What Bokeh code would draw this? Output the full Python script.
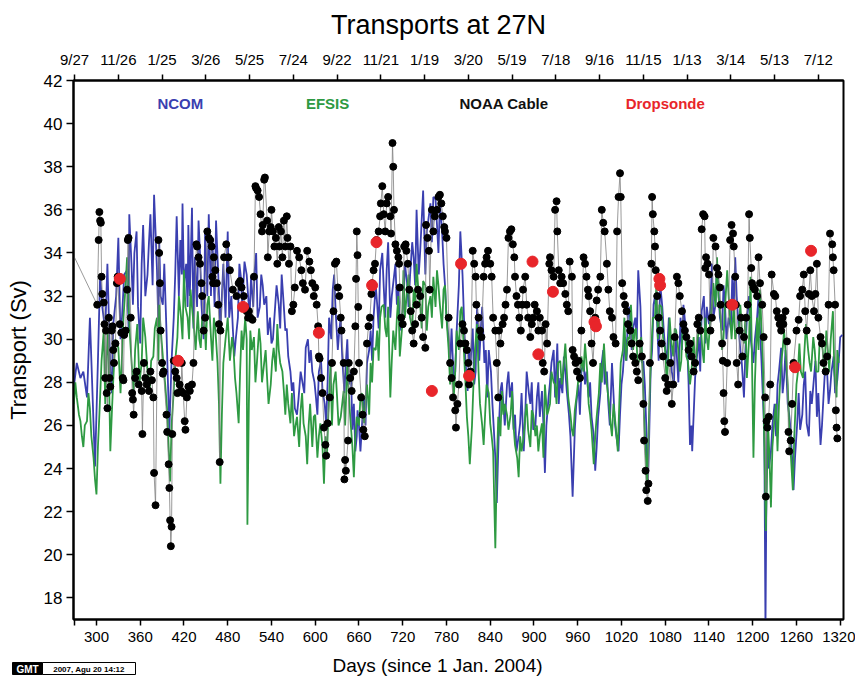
from bokeh.plotting import figure
from bokeh.models import LinearAxis, FixedTicker, Label, Range1d
from bokeh.layouts import column
from bokeh.core.properties import value
from bokeh.embed import file_html
from bokeh.resources import INLINE

# ---------------- data ----------------
ncom_day = [269, 273, 278, 282, 287, 291, 298, 305, 312, 319, 323, 330, 335, 342, 345, 350, 355, 360, 364, 370,
            374, 379, 383, 386, 391, 396, 400, 406, 410, 415, 418, 423, 426, 431, 435, 440, 444, 449, 454, 459,
            464, 470, 474, 480, 485, 489, 494, 498, 503, 508, 512, 517, 521, 526, 530, 535, 540, 544, 550, 554,
            559, 563, 568, 572, 577, 582, 587, 592, 596, 601, 605, 610, 615, 619, 624, 628, 633, 637, 642, 646,
            651, 655, 658, 662, 667, 671, 676, 680, 685, 689, 694, 698, 703, 707, 712, 716, 721, 726, 730, 735,
            739, 744, 748, 753, 758, 762, 767, 771, 776, 780, 785, 790, 794, 799, 804, 809, 813, 818, 822, 827,
            832, 836, 841, 845, 849, 854, 858, 863, 867, 872, 876, 881, 886, 890, 895, 899, 904, 908, 911, 915,
            920, 924, 929, 932, 936, 941, 945, 950, 953, 956, 961, 965, 970, 975, 979, 984, 988, 993, 997, 1002,
            1007, 1011, 1016, 1020, 1025, 1029, 1034, 1039, 1043, 1048, 1052, 1056, 1060, 1064, 1069, 1073, 1078,
            1082, 1087, 1092, 1096, 1101, 1105, 1110, 1114, 1117, 1121, 1126, 1130, 1135, 1140, 1144, 1149, 1153,
            1158, 1162, 1167, 1172, 1176, 1181, 1185, 1188, 1192, 1197, 1201, 1206, 1210, 1215, 1216, 1217.5, 1219,
            1220, 1225, 1230, 1234, 1239, 1243, 1248, 1252, 1256, 1261, 1265, 1270, 1274, 1279, 1284, 1288, 1293,
            1297, 1302, 1306, 1311, 1316, 1320, 1323]
ncom_val = [27.8, 28.9, 28.2, 28.5, 27.3, 31.0, 24.1, 33.0, 30.4, 28.5, 30.7, 34.7, 31.0, 33.2, 35.8, 31.6, 35.0, 29.8, 35.3, 33.0,
            35.8, 36.7, 33.2, 34.6, 31.6, 30.4, 25.8, 31.0, 35.7, 34.6, 36.3, 33.5, 35.3, 36.1, 33.8, 35.5, 31.6, 35.0, 35.8, 34.6,
            35.5, 30.4, 33.5, 35.0, 32.0, 29.2, 31.0, 32.9, 33.6, 32.0, 32.9, 33.2, 31.0, 33.0, 31.6, 30.2, 29.8, 31.0, 31.6, 33.0,
            30.4, 29.2, 27.6, 26.8, 27.2, 28.1, 29.6, 28.9, 28.5, 27.3, 28.5, 27.6, 26.1, 31.0, 32.3, 31.3, 30.4, 29.2, 28.9, 27.9,
            25.8, 24.8, 26.7, 24.8, 27.3, 28.9, 30.4, 31.0, 31.6, 33.2, 32.4, 33.2, 31.0, 32.6, 31.6, 30.4, 31.6, 32.6, 32.9, 33.8,
            36.0, 34.1, 36.9, 35.0, 36.3, 36.6, 35.3, 36.3, 33.5, 31.0, 28.9, 27.9, 30.4, 35.0, 31.0, 27.6, 28.9, 27.9, 31.6, 30.4,
            28.9, 27.3, 28.5, 25.8, 22.4, 27.6, 27.0, 27.9, 27.3, 25.8, 24.8, 26.1, 24.8, 28.5, 27.0, 25.8, 27.3, 26.4, 27.6, 23.8,
            27.3, 28.9, 27.3, 29.8, 28.2, 29.2, 27.6, 25.5, 22.7, 25.8, 27.9, 28.5, 27.9, 27.3, 26.4, 23.9, 26.4, 28.9, 27.9, 27.0,
            28.9, 26.1, 24.8, 27.9, 30.1, 31.3, 29.5, 31.0, 33.2, 28.9, 27.9, 23.0, 28.5, 31.6, 30.7, 32.6, 30.4,
            28.9, 30.1, 27.9, 29.2, 31.0, 31.6, 29.8, 25.1, 24.8, 28.2, 30.1, 31.3, 29.8, 30.7, 33.5, 31.6, 32.3,
            30.4, 31.6, 31.0, 32.9, 33.8, 30.4, 28.9, 27.3, 31.0, 30.1, 28.9, 31.0, 30.4, 26.4, 25.0, 16.5, 24.0,
            25.8, 24.8, 27.0, 27.9, 29.6, 28.2, 27.0, 25.8, 23.0, 26.1, 25.8, 27.9, 26.1, 27.6, 28.2, 26.4, 25.1,
            27.3, 28.5, 27.6, 29.2, 28.1, 30.1, 30.2]
# intermediate daily readings of the NCOM curve
ncom_day2 = [302, 308, 315, 321, 327, 333, 338, 344, 348, 352, 357, 362, 367, 372, 377, 381, 385, 388, 393, 398,
             403, 408, 413, 417, 420, 425, 428, 433, 438, 442, 447, 452, 457, 462, 467, 472, 477, 482,
             487, 491, 496, 500, 506, 510, 515, 519, 524, 528, 533, 538, 542, 547, 552, 557, 561, 566, 570, 575,
             580, 585, 590, 594, 599, 603, 608, 613, 617, 622, 626, 631, 635, 640, 644, 649, 653, 657, 660, 665,
             669, 674, 678, 683, 687, 692, 696,
             700, 705, 710, 714, 719, 723, 728, 733, 737, 742, 746, 751, 755, 760, 765, 769, 774, 778, 783, 787,
             792, 797, 802, 806, 811, 816, 820, 825, 829, 834, 838, 843, 847, 852, 856, 860, 865, 870, 874, 879,
             883, 888, 893, 897, 902, 906,
             913, 917, 922, 927, 934, 939, 943, 948, 958, 963, 968, 972, 977, 982, 986, 991, 995, 1000, 1004, 1009,
             1013, 1018, 1022, 1027, 1031, 1036, 1041, 1046, 1050, 1054, 1058, 1062, 1066, 1071, 1076, 1080, 1085,
             1089, 1094, 1098, 1103, 1108, 1112, 1116,
             1123, 1128, 1133, 1137, 1142, 1146, 1151, 1155, 1160, 1164, 1170, 1174, 1178, 1183, 1190, 1195, 1199,
             1203, 1208, 1212, 1222, 1227, 1232, 1236, 1241, 1245, 1250, 1254, 1258, 1263, 1268, 1272, 1277, 1281,
             1286, 1290, 1295, 1299, 1304, 1308, 1313, 1318]
ncom_val2 = [29.0, 31.5, 33.5, 27.5, 32.0, 30.0, 33.0, 30.5, 33.5, 34.0, 31.5, 33.5, 32.0, 34.5, 32.5, 35.0, 30.5, 32.0, 33.5, 28.0,
             29.0, 33.0, 32.0, 33.0, 32.5, 31.5, 32.0, 30.5, 31.5, 34.0, 30.0, 32.0, 32.0, 31.5, 33.0, 32.0, 31.0, 31.0,
             30.5, 30.0, 33.5, 31.5, 33.0, 31.0, 31.5, 34.0, 31.5, 32.5, 32.0, 31.0, 30.0, 32.5, 30.5, 31.5, 30.5, 28.5, 28.0, 26.5,
             28.5, 27.5, 30.0, 29.5, 28.0, 26.5, 29.0, 27.0, 28.0, 30.0, 33.0, 29.5, 31.0, 27.5, 30.0, 28.5, 27.0, 25.5, 26.0, 26.5,
             26.0, 29.5, 29.0, 32.5, 30.5, 34.0, 31.0,
             34.5, 32.0, 33.5, 32.5, 31.0, 33.5, 31.5, 34.5, 32.5, 33.0, 35.5, 33.0, 35.5, 34.5, 36.5, 34.0, 35.0, 32.5, 30.0, 30.5,
             28.5, 32.5, 33.0, 29.0, 29.5, 30.5, 28.5, 29.0, 31.5, 29.5, 29.5, 27.0, 24.5, 26.0, 28.0, 26.0, 28.5, 28.0, 26.5, 25.5,
             27.5, 26.5, 27.5, 28.0, 26.0, 28.0,
             26.0, 26.0, 28.0, 29.5, 27.0, 27.5, 28.5, 26.5, 27.0, 26.5, 29.0, 28.5, 28.0, 25.5, 25.0, 27.5, 29.5, 28.5, 26.0, 27.5,
             25.5, 26.5, 28.5, 29.0, 31.5, 30.5, 30.0, 31.5, 29.0, 26.0, 25.5, 29.5, 32.0, 29.0, 31.5, 29.5, 31.0,
             28.5, 30.5, 28.0, 29.5, 30.5, 28.0, 26.0,
             29.0, 28.5, 32.0, 31.5, 31.5, 31.0, 33.5, 31.0, 32.5, 30.0, 30.5, 31.5, 32.0, 29.5, 29.5, 32.0, 29.5,
             30.0, 32.0, 29.0, 24.0, 26.0, 25.5, 28.5, 27.5, 29.5, 26.5, 24.5, 24.5, 27.5, 26.5, 28.5, 25.5, 27.0,
             29.0, 27.5, 26.0, 28.5, 27.0, 28.5, 27.5, 29.0]

efsis_day = [269, 273, 278, 282, 287, 291, 296, 300, 304, 310, 314, 319, 323, 330, 337, 342, 346, 351, 356, 362,
             367, 373, 378, 383, 386, 391, 397, 401, 406, 411, 416, 420, 425, 429, 434, 439, 443, 448, 452, 457,
             461, 466, 470, 474, 480, 486, 490, 495, 499, 504, 507, 511, 516, 520, 525, 530, 534, 539, 543, 548,
             552, 557, 561, 566, 571, 575, 580, 584, 589, 593, 598, 603, 607, 612, 616, 621, 625, 630, 635, 639,
             644, 648, 653, 657, 662, 667, 671, 676, 680, 685, 689, 694, 698, 703, 707, 712, 716, 721, 726, 730,
             735, 739, 744, 748, 753, 758, 762, 767, 771, 776, 780, 785, 790, 794, 799, 803, 808, 812, 817, 822,
             826, 831, 835, 840, 844, 847, 851, 856, 860, 865, 870, 874, 879, 883, 888, 892, 897, 902, 906, 911,
             915, 920, 924, 929, 933, 938, 943, 947, 952, 956, 961, 965, 970, 975, 979, 982, 986, 991, 996, 1000,
             1005, 1009, 1015, 1019, 1024, 1029, 1033, 1038, 1042, 1047, 1051, 1055, 1059, 1063, 1068, 1072, 1077,
             1082, 1086, 1091, 1095, 1100, 1104, 1109, 1114, 1119, 1124, 1128, 1133, 1137, 1142, 1146, 1151, 1156,
             1160, 1165, 1169, 1174, 1178, 1183, 1188, 1192, 1197, 1201, 1206, 1210, 1214, 1218, 1221, 1225, 1230,
             1234, 1239, 1243, 1248, 1252, 1255, 1260, 1264, 1269, 1273, 1278, 1283, 1287, 1292, 1296, 1301, 1305,
             1310, 1315, 1318]
efsis_val = [27.0, 27.3, 26.2, 25.0, 26.2, 26.8, 24.5, 22.8, 26.5, 30.4, 29.2, 24.8, 28.1, 29.6, 31.0, 33.8, 30.1, 27.5, 30.7, 28.9,
             30.1, 27.6, 29.2, 31.0, 31.6, 29.2, 26.7, 23.4, 27.6, 30.1, 31.0, 33.2, 31.0, 32.3, 30.4, 31.3, 29.6, 31.0, 31.6, 30.1,
             31.0, 28.9, 23.3, 28.9, 31.0, 30.1, 28.2, 26.1, 30.4, 31.0, 21.4, 30.4, 30.1, 28.9, 29.8, 28.9, 28.2, 27.9, 29.6, 30.7,
             28.9, 27.6, 27.9, 26.1, 25.5, 26.4, 26.7, 26.1, 24.2, 27.0, 26.4, 24.5, 26.1, 23.3, 24.5, 28.9, 27.9, 27.3, 26.4, 27.6,
             28.9, 26.4, 23.6, 26.4, 27.3, 26.1, 27.9, 28.9, 29.6, 30.4, 31.0, 31.6, 30.1, 27.3, 30.4, 31.0, 29.2, 33.2, 32.3, 31.0,
             32.3, 33.5, 31.6, 32.7, 30.4, 32.0, 32.9, 33.2, 31.6, 32.3, 31.0, 27.9, 27.3, 30.4, 31.3, 30.1, 26.4, 24.2, 27.9, 30.7,
             27.0, 25.1, 27.9, 26.1, 24.8, 20.3, 26.4, 27.6, 27.0, 25.8, 27.6, 25.1, 23.6, 24.8, 26.4, 25.8, 26.7, 25.5, 24.8, 26.1,
             27.9, 26.7, 28.5, 27.9, 28.9, 27.9, 29.8, 27.3, 25.8, 26.7, 28.2, 29.2, 29.8, 27.0, 25.8, 24.2, 26.4, 28.9, 29.8, 27.9,
             26.1, 27.0, 24.8, 28.9, 31.0, 30.1, 31.6, 30.4, 28.9, 30.1, 26.4, 23.3, 27.9, 31.0, 32.6, 31.6, 30.1,
             27.9, 31.0, 29.2, 30.4, 28.5, 30.7, 29.2, 27.9, 30.1, 29.8, 31.0, 28.9, 30.1, 31.0, 32.6, 33.8, 31.0,
             30.1, 33.2, 31.0, 31.6, 30.4, 31.6, 29.8, 28.2, 32.9, 24.5, 31.0, 32.3, 28.9, 21.1, 26.1, 22.2, 26.4,
             24.8, 28.9, 30.4, 27.9, 24.8, 23.0, 27.9, 29.8, 28.2, 30.7, 28.9, 30.1, 28.5, 30.1, 29.5, 30.4, 28.5,
             31.3, 27.3, 28.9]
# intermediate daily readings of the EFSIS curve
efsis_day2 = [271, 276, 280, 284, 289, 293, 298, 302, 307, 312, 316, 321, 326, 333, 339, 344, 348, 353, 359, 364,
              370, 375, 380, 385, 388, 394, 399, 403, 408, 413, 418, 422, 427, 431, 436, 441, 445, 450, 454, 459,
              463, 468, 472, 477, 483,
              488, 492, 497, 501, 506, 509, 513, 518, 523, 527, 532, 536, 541, 546, 550, 555, 559, 563, 568, 573,
              578, 582, 587, 591, 596, 600, 605, 610, 614, 618, 623, 628, 632, 637, 641, 646, 651, 655, 660, 664,
              669, 674, 678, 683, 687, 691, 696,
              700, 705, 710, 714, 719, 723, 728, 733, 737, 742, 746, 751, 755, 760, 765, 769, 774, 778, 783, 787,
              792, 797, 801, 806, 810, 815, 819, 824, 829, 833, 838, 842, 849, 854, 858, 863, 868, 872, 877, 881,
              886, 890, 895, 899, 904, 908,
              913, 918, 922, 927, 931, 936, 940, 945, 950, 954, 959, 963, 968, 973, 977, 984, 989, 993, 998, 1003,
              1007, 1012, 1017, 1022, 1026, 1031, 1036, 1040, 1045, 1049, 1053, 1057, 1061, 1066, 1070, 1075, 1080,
              1084, 1088, 1093, 1098, 1102, 1107, 1111, 1116,
              1121, 1126, 1131, 1135, 1139, 1144, 1149, 1153, 1158, 1162, 1167, 1171, 1176, 1181, 1185, 1190, 1195,
              1199, 1203, 1208, 1212, 1216, 1223, 1227, 1232, 1236, 1241, 1246, 1250, 1257, 1262, 1266, 1271, 1276,
              1280, 1285, 1290, 1294, 1298, 1303, 1307, 1312, 1316]
efsis_val2 = [28.0, 26.5, 25.5, 26.0, 27.5, 25.5, 23.5, 25.0, 29.0, 27.0, 30.5, 26.5, 30.0, 27.5, 32.0, 31.5, 29.0, 29.5, 28.0, 31.0,
              28.5, 29.0, 30.5, 29.0, 30.5, 28.0, 25.0, 26.0, 29.0, 32.0, 30.0, 31.5, 30.0, 31.5, 29.5, 30.0, 31.0, 29.5, 32.0, 29.0,
              30.5, 27.0, 26.5, 30.0, 29.0,
              29.5, 27.5, 28.5, 29.5, 30.0, 27.0, 29.5, 28.0, 30.5, 28.0, 29.5, 27.0, 29.0, 28.5, 29.5, 28.5, 26.5, 27.0, 27.5, 26.0,
              25.0, 27.5, 25.5, 26.0, 25.0, 26.5, 25.5, 25.0, 25.5, 26.5, 26.0, 28.5, 26.0, 27.0, 26.0, 27.5, 25.0, 25.5, 26.0, 27.5,
              27.0, 26.5, 28.0, 29.5, 29.0, 31.5, 30.5,
              31.5, 29.0, 29.5, 32.0, 30.5, 31.0, 33.0, 30.5, 31.5, 32.0, 30.5, 32.5, 31.5, 31.0, 31.5, 32.5, 30.5, 32.5, 29.5, 29.0,
              28.5, 29.5, 31.5, 28.0, 25.5, 26.0, 29.5, 28.5, 26.0, 26.5, 27.5, 25.5, 24.0, 25.5, 26.5, 26.5, 26.5, 26.0, 24.5, 25.5,
              25.5, 27.0, 25.0, 26.5, 26.0, 25.5,
              24.5, 26.5, 27.0, 28.0, 27.0, 29.0, 28.5, 28.5, 26.5, 25.5, 27.5, 28.0, 28.5, 28.5, 26.5, 25.5, 27.5, 28.0, 28.5, 27.0,
              25.5, 26.0, 27.0, 29.5, 29.0, 30.0, 29.5, 30.5, 29.0, 28.5, 25.0, 25.5, 29.5, 31.0, 30.0, 31.5, 29.5,
              29.0, 30.0, 30.5, 29.5, 29.0, 30.5, 29.0, 28.5,
              28.5, 30.5, 29.5, 31.0, 29.5, 31.5, 31.5, 32.0, 29.5, 31.5, 32.0, 30.0, 30.0, 30.5, 30.5, 31.0, 30.0,
              29.0, 28.0, 29.5, 30.5, 25.0, 24.5, 25.0, 27.0, 27.0, 29.5, 29.0, 26.0, 25.5, 28.5, 28.5, 29.5, 29.5,
              28.5, 29.5, 28.5, 30.0, 28.5, 29.5, 30.0, 28.5, 29.5]

cable_day = [250, 301, 303, 304, 305, 306, 307, 308, 310, 311, 312, 313, 314, 315, 317, 318, 319, 321, 322, 323,
             324, 326, 328, 329, 332, 334, 336, 337, 338, 340, 342, 343, 344, 347, 349, 350, 351, 353, 355, 358,
             362, 363, 365, 367, 369, 372, 374, 376, 378, 379, 381, 385, 386, 387, 388, 390, 391, 392, 396, 397,
             399, 400, 401, 402, 403, 404, 406, 408, 410, 411, 414, 416, 417, 419, 421, 422, 424, 426, 428, 431,
             433, 437, 438, 440, 442, 444, 445, 447, 449, 452, 454, 456, 458, 459, 460, 461, 463, 465, 467, 468,
             469, 470, 475, 478, 481, 483, 487, 492, 495, 497, 499, 502, 504, 506, 508, 509, 511, 514, 516, 518,
             519, 521, 523, 525, 527, 528, 530, 531, 534, 535, 537, 539, 540, 542, 544, 546, 548, 550, 551, 553,
             555, 557, 559, 561, 562, 564, 566, 568, 570, 572, 575, 578, 581, 583, 586, 589, 592, 594, 596, 598,
             600, 602, 604, 605, 606, 608, 610, 612, 614, 615, 617, 620, 623, 625, 627, 629, 631, 633, 635, 636,
             639, 640, 641, 642, 645, 646, 648, 650, 653, 655, 656, 657, 658, 659, 660, 663, 665, 666, 668, 671,
             673, 675, 677, 678, 680, 682, 684, 687, 689, 690, 692, 694, 696, 698, 700, 703, 704, 706, 707, 708,
             710, 712, 714, 715, 716, 718, 720, 722, 724, 725, 727, 729, 731, 733, 735, 737, 739, 741, 744, 746,
             748, 751, 752, 754, 756, 757, 760, 762, 764, 767, 769, 771, 773, 775, 777, 778, 780, 783, 785, 787,
             789, 792, 793, 795, 797, 799, 802, 804, 806, 808, 810, 811, 813, 816, 818, 820, 821, 824, 826, 828,
             831, 833, 835, 837, 840, 842, 844, 847, 849, 851, 852, 854, 857, 859, 861, 863, 865, 867, 869, 871,
             873, 874, 876, 878, 880, 882, 884, 885, 888, 890, 892, 895, 897, 899, 901, 904, 906, 908, 911, 912,
             914, 916, 918, 921, 922, 924, 927, 929, 931, 932, 934, 936, 938, 940, 943, 945, 947, 949, 952, 953,
             955, 957, 959, 961, 963, 965, 968, 970, 972, 974, 975, 977, 979, 981, 984, 986, 988, 991, 993, 995,
             997, 1000, 1002, 1004, 1007, 1009, 1012, 1014, 1016, 1018, 1019, 1021, 1023, 1025, 1027, 1029, 1032,
             1034, 1036, 1039, 1041, 1043, 1045, 1048, 1050, 1051, 1053, 1054, 1056, 1057, 1059, 1061, 1062, 1063,
             1065, 1066, 1067, 1069, 1071, 1073, 1075, 1077, 1080, 1082, 1084, 1087, 1089, 1091, 1093, 1096, 1098,
             1100, 1103, 1105, 1107, 1109, 1112, 1114, 1116, 1119, 1121, 1124, 1126, 1128, 1130, 1132, 1134, 1135,
             1136, 1138, 1140, 1142, 1144, 1146, 1149, 1151, 1153, 1155, 1156, 1158, 1159, 1160, 1161, 1162, 1165,
             1167, 1169, 1171, 1173, 1174, 1176, 1177, 1178, 1180, 1182, 1184, 1186, 1188, 1191, 1193, 1195, 1196,
             1198, 1199, 1201, 1203, 1206, 1208, 1210, 1213, 1215, 1217, 1218, 1219, 1220, 1222, 1224, 1226, 1229,
             1231, 1233, 1235, 1237, 1239, 1241, 1242, 1245, 1247, 1249, 1250, 1252, 1254, 1256, 1260, 1263, 1265,
             1268, 1270, 1272, 1274, 1277, 1279, 1281, 1284, 1286, 1288, 1290, 1293, 1295, 1297, 1300, 1302, 1304,
             1306, 1309, 1310, 1311, 1313, 1314, 1315, 1316]
cable_val = [35.2, 31.6, 34.6, 35.9, 35.5, 35.4, 32.9, 32.1, 31.7, 30.7, 28.2, 30.4, 27.5, 26.8, 31.0, 28.2, 27.8, 30.4, 30.6, 29.5,
             28.9, 29.8, 32.6, 32.9, 30.7, 30.3, 28.2, 28.1, 30.2, 30.4, 32.3, 34.6, 34.7, 31.0, 27.5, 27.2, 26.5, 28.2, 28.5, 27.9,
             27.6, 25.6, 28.9, 28.2, 27.9, 27.6, 28.5, 28.1, 27.3, 23.8, 22.3, 34.6, 34.0, 32.6, 30.4, 28.9, 28.4, 28.5, 26.5, 25.7,
             24.2, 23.1, 21.6, 20.4, 21.3, 25.6, 29.0, 28.5, 28.2, 27.5, 27.9, 27.6, 28.9, 27.5, 26.2, 25.8, 27.3, 27.8, 27.6, 27.9,
             28.9, 34.4, 34.3, 33.8, 33.5, 32.6, 32.0, 30.4, 31.0, 35.0, 34.7, 34.6, 34.3, 32.9, 32.6, 33.8, 33.2, 32.6, 31.6, 30.7,
             24.3, 30.4, 33.8, 34.4, 33.8, 33.2, 32.3, 32.0, 32.6, 32.7, 32.4, 32.0, 31.5, 31.3, 31.0, 31.3, 31.0, 30.9, 32.9, 37.1,
             37.0, 36.9, 36.6, 35.8, 35.0, 35.3, 37.4, 37.5, 35.5, 33.8, 35.0, 35.2, 36.0, 35.0, 34.3, 34.7, 33.5, 35.2, 34.3, 35.0,
             33.8, 35.5, 34.3, 35.7, 34.7, 33.5, 34.3, 31.3, 31.6, 32.4, 34.1, 33.8, 33.2, 32.6, 32.3, 34.1, 33.6, 33.2, 32.6, 32.0,
             32.4, 31.6, 30.6, 29.2, 29.1, 28.2, 27.5, 25.9, 25.1, 24.6, 26.1, 27.3, 28.9, 31.3, 33.5, 33.6, 32.4, 32.0, 31.0, 30.4,
             28.9, 23.5, 24.4, 23.9, 25.3, 28.9, 28.2, 27.6, 28.5, 30.6, 32.8, 35.0, 33.9, 31.5, 28.9, 27.3, 26.5, 25.8, 25.5, 29.8,
             30.6, 31.0, 32.1, 32.6, 33.2, 33.5, 34.6, 35.0, 35.7, 36.3, 37.1, 35.8, 35.0, 36.3, 36.6, 35.7, 34.9, 39.1, 38.0, 36.0,
             34.4, 34.1, 33.8, 33.5, 32.4, 31.0, 30.7, 34.3, 34.4, 34.1, 33.5, 32.3, 31.3, 30.4, 29.8, 30.7, 31.6, 32.3, 32.0, 31.0,
             30.1, 29.6, 35.3, 34.7, 34.1, 32.3, 36.0, 35.0, 35.7, 36.0, 36.6, 36.7, 36.3, 35.7, 35.2, 35.0, 34.7, 31.0, 28.9, 28.2,
             27.3, 26.7, 25.9, 27.0, 27.9, 29.8, 30.7, 30.4, 29.8, 29.5, 28.9, 27.9, 28.5, 34.1, 33.5, 32.9, 31.6, 31.0, 30.4, 30.1,
             32.9, 33.5, 33.8, 34.1, 33.5, 32.9, 31.0, 30.4, 28.9, 27.3, 30.4, 29.8, 30.7, 31.0, 31.6, 32.3, 34.7, 35.0, 35.1, 34.4,
             33.8, 32.9, 32.0, 31.6, 31.0, 30.4, 31.6, 32.3, 32.9, 31.6, 31.0, 30.1, 30.7, 31.0, 31.6, 31.3, 30.4, 31.0, 30.4, 28.9,
             28.5, 30.7, 29.8, 33.5, 33.8, 33.2, 32.9, 36.0, 36.4, 35.0, 33.2, 32.6, 32.9, 32.6, 32.1, 31.6, 31.3, 33.6, 32.9, 29.5,
             29.2, 28.9, 28.5, 29.0, 28.2, 30.4, 33.8, 33.5, 32.9, 32.3, 32.0, 31.3, 29.8, 28.9, 31.0, 31.8, 32.3, 32.9, 36.0, 35.4,
             35.0, 33.5, 32.3, 31.3, 31.0, 30.1, 29.8, 35.0, 36.6, 37.7, 36.6, 32.6, 32.0, 31.6, 31.3, 30.7, 30.4,
             29.8, 29.2, 28.9, 28.5, 28.1, 29.8, 29.2, 27.0, 25.3, 23.9, 23.0, 22.5, 23.3, 28.9, 33.5, 36.6, 35.8,
             35.0, 34.3, 33.2, 32.0, 31.0, 30.4, 29.8, 29.2, 28.2, 27.6, 27.9, 28.9, 27.0, 27.9, 30.1, 32.9, 32.6,
             32.0, 31.3, 30.7, 30.4, 30.1, 29.5, 29.8, 29.2, 28.5, 28.9, 30.7, 31.0, 30.4, 35.1, 35.8, 35.7, 33.3,
             33.8, 33.5, 33.0, 30.4, 31.0, 34.7, 34.3, 33.3, 33.0, 32.4, 31.6, 29.8, 29.0, 27.5, 26.2, 25.7, 28.9,
             31.6, 34.6, 35.3, 34.9, 34.3, 32.9, 31.6, 28.9, 27.9, 30.4, 31.0, 29.2, 30.1, 31.0, 31.6, 35.8, 34.7,
             33.3, 32.6, 32.4, 32.3, 32.0, 33.8, 32.6, 31.6, 30.1, 27.3, 22.7, 26.2, 25.9, 26.4, 27.9, 33.0, 32.1,
             32.0, 31.3, 31.0, 30.7, 30.4, 31.0, 30.7, 31.3, 29.9, 25.7, 24.8, 25.3, 27.0, 28.9, 30.4, 30.9, 32.0,
             32.3, 33.0, 31.3, 30.4, 32.1, 33.2, 32.0, 31.3, 32.1, 33.5, 31.0, 30.1, 29.8, 28.9, 28.5, 29.2, 31.6,
             34.9, 34.4, 33.8, 33.2, 31.6, 26.7, 25.9, 25.4]

drop_day = [332, 412, 501, 605, 678, 684, 760, 800, 811, 898, 906, 926, 983, 985, 1072, 1073, 1172, 1258, 1280]
drop_val = [32.8, 29.0, 31.5, 30.3, 32.5, 34.5, 27.6, 33.5, 28.3, 33.6, 29.3, 32.2, 30.8, 30.6, 32.8, 32.5, 31.6, 28.7, 34.1]

bottom_ticks = [270, 300, 360, 420, 480, 540, 600, 660, 720, 780, 840, 900, 960, 1020, 1080, 1140, 1200, 1260, 1320]
top_ticks = [270, 330, 390, 450, 510, 570, 630, 690, 750, 810, 870, 930, 990, 1050, 1110, 1170, 1230, 1290]
top_labels = ["9/27", "11/26", "1/25", "3/26", "5/25", "7/24", "9/22", "11/21", "1/19", "3/20",
              "5/19", "7/18", "9/16", "11/15", "1/13", "3/14", "5/13", "7/12"]
y_ticks = [18, 20, 22, 24, 26, 28, 30, 32, 34, 36, 38, 40, 42]

series_names = ["NCOM", "EFSIS", "NOAA Cable", "Dropsonde"]
series_colors = ["#3a3fb0", "#2e9a42", "#111111", "#e8252a"]
name_day = [415, 617, 859, 1080]

FONT = "Liberation Sans"


def merged(d1, v1, d2, v2):
    pairs = sorted(zip(list(d1) + list(d2), list(v1) + list(v2)))
    return [a for a, _ in pairs], [b for _, b in pairs]


ncom_x, ncom_y = merged(ncom_day, ncom_val, ncom_day2, ncom_val2)
efsis_x, efsis_y = merged(efsis_day, efsis_val, efsis_day2, efsis_val2)

ALIGN_OFF = True


def strip(h):
    global ALIGN_OFF
    s = figure(width=855, height=h, output_backend="svg", toolbar_location=None,
               x_axis_location=None, y_axis_location=None,
               min_border=0, min_border_left=0, min_border_right=0,
               min_border_top=0, min_border_bottom=0)
    try:
        s.frame_align = False
    except Exception:
        ALIGN_OFF = False
    if ALIGN_OFF:
        s.x_range = Range1d(0, 855)
    else:
        s.x_range = Range1d(73, 843)
    s.y_range = Range1d(h, 0)
    s.xgrid.visible = False
    s.ygrid.visible = False
    s.outline_line_color = None
    s.background_fill_color = "white"
    s.border_fill_color = "white"
    return s


# ---------- title strip ----------
top = strip(40)
top.text(x=[438], y=[24], text=["Transports at 27N"], text_font=value(FONT), text_font_size="27px",
         text_align="center", text_baseline="middle", text_color="black")

# ---------- main plot ----------
p = figure(width=855, height=610, x_range=(268.5, 1324.5), y_range=(17, 42),
           output_backend="svg", toolbar_location=None,
           min_border_left=73, min_border_right=12, min_border_top=40, min_border_bottom=31)
try:
    p.frame_align = False
except Exception:
    pass
p.xgrid.visible = False
p.ygrid.visible = False
p.outline_line_color = "black"
p.outline_line_width = 2
p.background_fill_color = "white"
p.border_fill_color = "white"

xa = p.xaxis[0]
xa.ticker = FixedTicker(ticks=bottom_ticks)
xa.major_label_overrides = {270: ""}
xa.minor_tick_line_color = None
xa.major_tick_out = 6
xa.major_tick_in = 0
xa.axis_line_width = 2
xa.major_tick_line_width = 1.5
xa.major_label_text_font = FONT
xa.major_label_text_font_size = "15px"
xa.major_label_text_color = "black"
xa.major_label_standoff = 6

ya = p.yaxis[0]
ya.ticker = FixedTicker(ticks=y_ticks)
ya.minor_tick_line_color = None
ya.major_tick_out = 7
ya.major_tick_in = 0
ya.axis_line_width = 2
ya.major_tick_line_width = 1.5
ya.major_label_text_font = FONT
ya.major_label_text_font_size = "17px"
ya.major_label_text_color = "black"
ya.major_label_standoff = 4
ya.axis_label = "Transport (Sv)"
ya.axis_label_text_font = FONT
ya.axis_label_text_font_size = "22px"
ya.axis_label_text_font_style = "normal"
ya.axis_label_text_color = "black"
ya.axis_label_standoff = 10

ta = LinearAxis(ticker=FixedTicker(ticks=top_ticks),
                major_label_overrides={t: l for t, l in zip(top_ticks, top_labels)})
ta.minor_tick_line_color = None
ta.major_tick_out = 6
ta.major_tick_in = 0
ta.axis_line_width = 2
ta.major_tick_line_width = 1.5
ta.major_label_text_font = FONT
ta.major_label_text_font_size = "15px"
ta.major_label_text_color = "black"
ta.major_label_standoff = 7
p.add_layout(ta, "above")

p.line(ncom_x, ncom_y, line_color=series_colors[0], line_width=1.8)
p.line(efsis_x, efsis_y, line_color=series_colors[1], line_width=1.8)
p.line(cable_day, cable_val, line_color="#808080", line_width=0.8)
p.scatter(cable_day, cable_val, size=7, fill_color="black", line_color="black")
p.scatter(drop_day, drop_val, size=11, fill_color=series_colors[3], line_color=series_colors[3])

for nm, c, d in zip(series_names, series_colors, name_day):
    p.add_layout(Label(x=d, y=40.93, text=nm, text_color=c, text_font=FONT,
                       text_font_size="15px", text_font_style="bold",
                       text_align="center", text_baseline="middle"))

# ---------- bottom strip: x label and GMT stamp ----------
bot = strip(32)
bot.text(x=[437], y=[15], text=["Days (since 1 Jan. 2004)"], text_font=value(FONT), text_font_size="19px",
         text_align="center", text_baseline="middle", text_color="black")
bot.quad(left=[12], right=[42], top=[12], bottom=[24], fill_color="black", line_color="black", line_width=1)
bot.quad(left=[42], right=[135], top=[12], bottom=[24], fill_color="white", line_color="black", line_width=1)
bot.text(x=[27], y=[18.5], text=["GMT"], text_font=value(FONT), text_font_size="10px", text_font_style="bold",
         text_align="center", text_baseline="middle", text_color="white")
bot.text(x=[88.5], y=[18.5], text=["2007, Agu 20 14:12"], text_font=value(FONT), text_font_size="8px",
         text_font_style="bold", text_align="center", text_baseline="middle", text_color="black")

layout = column(top, p, bot, spacing=0)
open("out.html", "w").write(file_html(layout, INLINE))
